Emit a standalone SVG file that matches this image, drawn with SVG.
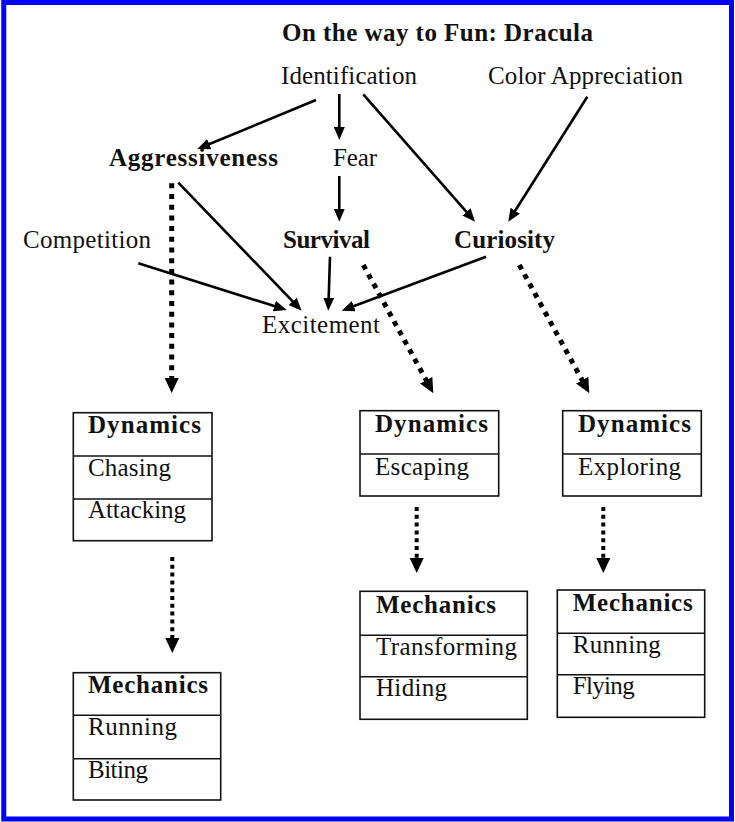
<svg xmlns="http://www.w3.org/2000/svg" width="735" height="822" viewBox="0 0 735 822">
<style>
text{font-family:"Liberation Serif","Times New Roman",serif;font-size:25px;fill:#111;}
.b{font-weight:bold;}
.box{fill:#fff;stroke:#111;stroke-width:1.6;}
.div{stroke:#111;stroke-width:1.6;}
.sol{stroke:#000;stroke-width:2.6;fill:none;marker-end:url(#ah);}
.dl{stroke:#000;stroke-width:5;stroke-dasharray:5 5.7;fill:none;marker-end:url(#dh);}
.ds{stroke:#000;stroke-width:4;stroke-dasharray:4 3.8;fill:none;marker-end:url(#dh);}
</style>
<defs>
<marker id="ah" markerUnits="userSpaceOnUse" markerWidth="13" markerHeight="11" refX="9" refY="5.5" orient="auto"><path d="M0,0 L13,5.5 L0,11 z" fill="#000"/></marker>
<marker id="dh" markerUnits="userSpaceOnUse" markerWidth="15" markerHeight="14" refX="3" refY="7" orient="auto"><path d="M0,0 L15,7 L0,14 z" fill="#000"/></marker>
</defs>
<rect x="0" y="0" width="735" height="822" fill="#fff"/>
<rect x="3.75" y="2.5" width="727.75" height="816.5" fill="none" stroke="#0000ff" stroke-width="5"/>

<g id="title"><text class="b" x="282" y="41" textLength="311" lengthAdjust="spacing">On the way to Fun: Dracula</text></g>
<g id="identification"><text x="281" y="84" textLength="136" lengthAdjust="spacing">Identification</text></g>
<g id="color-appreciation"><text x="488" y="84" textLength="195" lengthAdjust="spacing">Color Appreciation</text></g>
<g id="aggressiveness"><text class="b" x="109" y="166" textLength="169" lengthAdjust="spacing">Aggressiveness</text></g>
<g id="fear"><text x="333" y="166" textLength="44" lengthAdjust="spacing">Fear</text></g>
<g id="competition"><text x="23" y="248" textLength="128" lengthAdjust="spacing">Competition</text></g>
<g id="survival"><text class="b" x="283" y="248" textLength="87" lengthAdjust="spacing">Survival</text></g>
<g id="curiosity"><text class="b" x="454" y="248" textLength="101" lengthAdjust="spacing">Curiosity</text></g>
<g id="excitement"><text x="262" y="333" textLength="118" lengthAdjust="spacing">Excitement</text></g>

<g id="dynamics-1">
<rect class="box" x="73.3" y="412.7" width="138.7" height="128"/>
<line class="div" x1="73.3" y1="456" x2="212" y2="456"/>
<line class="div" x1="73.3" y1="499" x2="212" y2="499"/>
<text class="b" x="88" y="433" textLength="113" lengthAdjust="spacing">Dynamics</text>
<text x="88" y="476" textLength="83" lengthAdjust="spacing">Chasing</text>
<text x="88" y="518" textLength="98" lengthAdjust="spacing">Attacking</text>
</g>
<g id="mechanics-1">
<rect class="box" x="73.3" y="672.7" width="147.4" height="127.3"/>
<line class="div" x1="73.3" y1="715.3" x2="220.7" y2="715.3"/>
<line class="div" x1="73.3" y1="758.7" x2="220.7" y2="758.7"/>
<text class="b" x="88" y="693" textLength="120" lengthAdjust="spacing">Mechanics</text>
<text x="88" y="735" textLength="89" lengthAdjust="spacing">Running</text>
<text x="88" y="778" textLength="60" lengthAdjust="spacing">Biting</text>
</g>
<g id="dynamics-2">
<rect class="box" x="360" y="410.7" width="138.7" height="85.3"/>
<line class="div" x1="360" y1="454" x2="498.7" y2="454"/>
<text class="b" x="375" y="431.7" textLength="113" lengthAdjust="spacing">Dynamics</text>
<text x="375" y="475" textLength="94" lengthAdjust="spacing">Escaping</text>
</g>
<g id="dynamics-3">
<rect class="box" x="562.7" y="410.7" width="138.6" height="85.3"/>
<line class="div" x1="562.7" y1="454" x2="701.3" y2="454"/>
<text class="b" x="578" y="431.7" textLength="113" lengthAdjust="spacing">Dynamics</text>
<text x="578" y="475" textLength="103" lengthAdjust="spacing">Exploring</text>
</g>
<g id="mechanics-2">
<rect class="box" x="360" y="591.3" width="167.3" height="128"/>
<line class="div" x1="360" y1="635.3" x2="527.3" y2="635.3"/>
<line class="div" x1="360" y1="676.7" x2="527.3" y2="676.7"/>
<text class="b" x="376" y="612.7" textLength="120" lengthAdjust="spacing">Mechanics</text>
<text x="376" y="655" textLength="141" lengthAdjust="spacing">Transforming</text>
<text x="376" y="696" textLength="71" lengthAdjust="spacing">Hiding</text>
</g>
<g id="mechanics-3">
<rect class="box" x="557.3" y="590" width="147.4" height="127.3"/>
<line class="div" x1="557.3" y1="633.3" x2="704.7" y2="633.3"/>
<line class="div" x1="557.3" y1="674.7" x2="704.7" y2="674.7"/>
<text class="b" x="572.7" y="610.7" textLength="120" lengthAdjust="spacing">Mechanics</text>
<text x="572.7" y="653.3" textLength="88" lengthAdjust="spacing">Running</text>
<text x="572.7" y="694" textLength="62" lengthAdjust="spacing">Flying</text>
</g>

<g id="connectors">
<line class="sol" x1="316" y1="100" x2="201" y2="147.5"/>
<line class="sol" x1="339.3" y1="94" x2="339.3" y2="136"/>
<line class="sol" x1="339.3" y1="176" x2="339.3" y2="217.7"/>
<line class="sol" x1="363.3" y1="94.3" x2="472.4" y2="218.7"/>
<line class="sol" x1="587.3" y1="96.7" x2="510.4" y2="218.3"/>
<line class="sol" x1="178.3" y1="182.7" x2="298.9" y2="307.8"/>
<line class="sol" x1="138.3" y1="263.3" x2="282.9" y2="308.8"/>
<line class="sol" x1="330" y1="256.7" x2="328.4" y2="306.7"/>
<line class="sol" x1="486" y1="256.7" x2="345.4" y2="309.3"/>
<line class="dl" x1="171.7" y1="183.3" x2="171.7" y2="381"/>
<line class="dl" x1="363.3" y1="265" x2="427.6" y2="382.8"/>
<line class="dl" x1="519.3" y1="265" x2="583.6" y2="382.8"/>
<line class="ds" x1="172.3" y1="557" x2="172.3" y2="641"/>
<line class="ds" x1="416.7" y1="507" x2="416.7" y2="561"/>
<line class="ds" x1="603.3" y1="507" x2="603.3" y2="561"/>
</g>
</svg>
